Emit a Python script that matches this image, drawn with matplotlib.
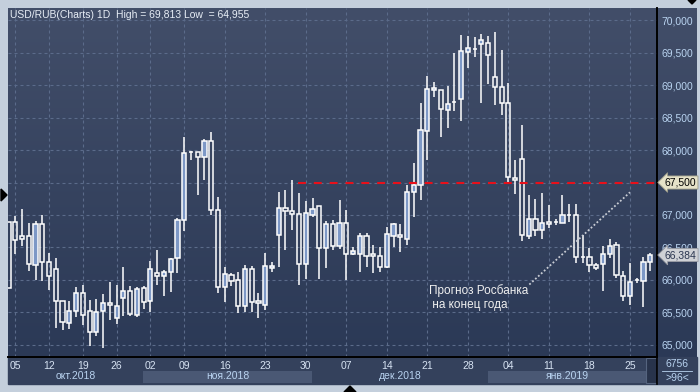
import numpy as np
import matplotlib.pyplot as plt
from matplotlib.transforms import blended_transform_factory
from matplotlib.patches import Rectangle, Polygon

plt.rcParams['font.family'] = ['Liberation Sans', 'DejaVu Sans']

# daily USD/RUB candles (oct 2018 - jan 2019)
opens = [66.89, 66.887, 66.67, 66.67, 66.225, 66.856, 66.27, 66.164, 65.67, 65.333,
         65.518, 65.795, 65.518, 65.195, 65.518, 65.64, 65.41, 65.72, 65.83, 65.456,
         65.877, 65.67, 66.10, 66.056, 66.118, 66.333, 66.918, 67.964, 67.964, 67.90,
         68.133, 67.07, 65.887, 66.07, 65.995, 65.595, 66.164, 65.67, 65.61, 66.18,
         66.687, 67.10, 67.056, 67.01, 66.24, 66.995, 67.133, 66.487, 66.856, 66.518,
         66.872, 66.395, 66.395, 66.672, 66.395, 66.364, 66.205, 66.672, 66.687, 66.626,
         67.349, 67.456, 68.287, 68.918, 68.918, 68.61, 68.733, 68.779, 69.503, 69.554,
         69.626, 69.641, 69.118, 68.964, 68.718, 67.564, 67.856, 66.672, 66.933, 66.764,
         66.887, 66.887, 66.872, 66.995, 66.995, 66.349, 66.349, 66.226, 66.241, 66.395,
         66.533, 66.056, 65.749, 65.995, 65.979, 66.272]
highs = [66.89, 66.98, 67.09, 66.88, 66.91, 67.0, 66.415, 66.34, 65.67, 65.67,
         65.89, 65.92, 65.69, 65.71, 65.78, 65.97, 65.92, 66.2, 65.91, 65.89,
         65.91, 66.29, 66.46, 66.15, 66.34, 66.96, 68.2, 67.98, 67.964, 68.164,
         68.27, 67.27, 66.195, 66.10, 66.118, 66.23, 66.215, 65.795, 66.41, 66.27,
         67.35, 67.38, 67.533, 67.333, 67.21, 67.256, 67.133, 66.90, 66.918, 67.226,
         67.072, 66.503, 66.718, 66.718, 66.533, 66.503, 66.81, 66.872, 66.86, 67.462,
         67.795, 68.718, 69.133, 69.041, 68.918, 68.979, 69.487, 69.764, 69.749, 69.733,
         69.79, 69.749, 69.813, 69.533, 69.026, 67.841, 68.379, 67.303, 67.241, 67.333,
         67.149, 66.933, 67.303, 67.164, 67.164, 66.687, 66.487, 66.256, 66.518, 66.626,
         66.58, 66.133, 66.256, 66.026, 66.349, 66.41]
lows = [65.88, 66.405, 66.53, 66.14, 66.0, 65.98, 65.85, 65.26, 65.23, 65.24,
        65.43, 65.30, 64.99, 65.14, 64.955, 65.38, 65.33, 65.44, 65.44, 65.425,
        65.56, 65.50, 65.92, 65.75, 65.82, 66.11, 66.76, 67.85, 67.30, 67.54,
        67.0, 65.795, 65.656, 65.90, 65.487, 65.50, 65.50, 65.41, 65.533, 66.13,
        66.205, 66.456, 66.764, 65.918, 66.02, 66.974, 66.02, 66.19, 66.456, 66.472,
        66.0, 66.38, 66.128, 66.205, 66.113, 66.128, 66.18, 66.503, 66.426, 66.533,
        66.974, 67.236, 67.851, 68.81, 68.195, 68.333, 68.6, 68.441, 69.256, 69.426,
        68.718, 69.01, 68.687, 68.533, 67.503, 67.318, 66.595, 66.626, 66.672, 66.626,
        66.795, 66.841, 66.87, 66.887, 66.256, 66.256, 66.118, 66.149, 65.826, 66.333,
        66.026, 65.672, 65.61, 65.95, 65.579, 66.133]
closes = [65.88, 66.61, 66.625, 66.24, 66.856, 66.27, 66.056, 65.67, 65.35, 65.518,
          65.795, 65.456, 65.195, 65.50, 65.64, 65.61, 65.595, 65.83, 65.47, 65.86,
          65.66, 66.164, 66.056, 66.118, 66.318, 66.918, 67.948, 67.964, 67.90, 68.133,
          67.07, 65.887, 66.087, 65.98, 65.595, 66.164, 65.656, 65.64, 66.21, 66.21,
          67.10, 67.056, 67.01, 66.24, 67.025, 67.087, 66.487, 66.856, 66.518, 66.872,
          66.395, 66.441, 66.672, 66.364, 66.364, 66.205, 66.703, 66.856, 66.656, 67.349,
          67.456, 68.303, 68.933, 68.949, 68.626, 68.703, 68.733, 69.518, 69.564, 69.554,
          69.687, 69.456, 68.964, 68.718, 67.579, 67.533, 66.687, 66.933, 66.764, 66.872,
          66.856, 66.887, 66.995, 66.995, 66.349, 66.349, 66.226, 66.179, 66.395, 66.518,
          66.072, 65.749, 65.964, 65.995, 66.272, 66.384]

tick_pos = [1, 6, 11, 16, 21, 26, 32, 38, 44, 50, 56, 62, 68, 74, 80, 86, 92]
tick_labels = ['05', '12', '19', '26', '02', '09', '16', '23', '30', '07',
               '14', '21', '28', '04', '11', '18', '25']
months = ['окт.2018', 'ноя.2018', 'дек.2018', 'янв.2019']
month_edges = [-0.1, 19.9, 44.9, 71.0, 94.4]

target = 67.5          # Rosbank year-end forecast
target_start = 42.8
last_price = 66.384
forecast_x = [77.1, 92.0]
forecast_y = [65.93, 67.35]

W, H = 700, 392
XMIN, XMAX = -0.08, 96.0
YMIN, YMAX = 64.815, 70.185
TXT = '#b9d3f0'


def px(x0, y0, x1, y1):
    # pixel box -> figure fraction
    return [x0 / W, 1 - y1 / H, (x1 - x0) / W, (y1 - y0) / H]


def fmt(v):
    return f'{v:.3f}'.replace('.', ',')


fig = plt.figure(figsize=(7, 3.92), dpi=100)
fig.patch.set_facecolor('#c4cfdc')

# background panels
bg = fig.add_axes([0, 0, 1, 1], zorder=0)
bg.set_xlim(0, W)
bg.set_ylim(H, 0)
bg.axis('off')
grad = np.linspace(0, 1, 256)[:, None]
top_c = np.array([0x42, 0x4e, 0x69]) / 255
bot_c = np.array([0x2b, 0x39, 0x56]) / 255
img = top_c[None, None, :] * (1 - grad[..., None]) + bot_c[None, None, :] * grad[..., None]
bg.imshow(img, extent=(8, 697, 357, 8), aspect='auto', origin='upper')
bg.add_patch(Rectangle((8, 357), 689, 27, color='#34415c'))
bg.add_patch(Rectangle((646, 358), 11, 25, facecolor='#28334b', edgecolor='#55647f', lw=0.8))
bg.plot([657, 657], [8, 384], color='black', lw=1.2)
bg.plot([662, 692], [371, 371], color=TXT, lw=0.6)
bg.text(677, 364, '6756', color=TXT, fontsize=7.5, ha='center', va='center')
bg.text(677, 378, '>96<', color=TXT, fontsize=7.5, ha='center', va='center')
bg.add_patch(Polygon([(1, 189), (7, 195), (1, 201)], color='black'))
bg.add_patch(Polygon([(344, 392), (350, 386), (356, 392)], color='black'))
bg.add_patch(Polygon([(688, 0), (692, 4), (696, 0)], color='black'))

# month strip under the time axis
axm = fig.add_axes(px(8, 357, 657, 384), zorder=1)
axm.set_xlim(XMIN, XMAX)
axm.set_ylim(0, 1)
axm.axis('off')
for k, name in enumerate(months):
    if k % 2 == 1:
        axm.axvspan(month_edges[k], month_edges[k + 1], ymin=0.04, ymax=0.48,
                    color='#4a5874', lw=0)
    axm.text((month_edges[k] + month_edges[k + 1]) / 2, 0.28, name, color=TXT,
             fontsize=7.5, ha='center', va='center')

# main chart
ax = fig.add_axes(px(8, 8, 657, 357), zorder=3)
ax.set_facecolor('none')
ax.set_xlim(XMIN, XMAX)
ax.set_ylim(YMIN, YMAX)

x = np.arange(len(opens))
o = np.array(opens)
c = np.array(closes)
hi = np.array(highs)
lo = np.array(lows)
top = np.maximum(o, c)
bot = np.minimum(o, c)
up = c > o

ax.vlines(x, top, hi, color='white', lw=1.1, zorder=3)
ax.vlines(x, lo, bot, color='white', lw=1.1, zorder=3)
ax.bar(x[up], (top - bot)[up], bottom=bot[up], width=0.62, color='#7d98c6',
       edgecolor='white', linewidth=1.1, zorder=4)
ax.bar(x[~up], (top - bot)[~up], bottom=bot[~up], width=0.62, facecolor='none',
       edgecolor='white', linewidth=1.1, zorder=4)

ax.hlines(target, target_start, XMAX, colors='#e8101a', linestyles=(0, (3.8, 3.8)),
          lw=1.5, zorder=5)
ax.plot(forecast_x, forecast_y, color='#c8ccd4', lw=1.3, linestyle=(0, (1, 1.2)), zorder=5)
ax.text(62.2, 65.93, 'Прогноз Росбанка\n на конец года', color='#f0f0f0', fontsize=8.5,
        ha='left', va='top', linespacing=1.15, zorder=6)

ax.text(0.003, 0.98, 'USD/RUB(Charts) 1D  High = 69,813 Low  = 64,955', color='#e8eef6',
        fontsize=7.5, ha='left', va='center', transform=ax.transAxes, zorder=6)

# axes, grid, ticks (the 67,500 label is taken by the forecast flag)
yt = np.arange(65.0, 70.01, 0.5)
ax.set_yticks(yt)
ax.set_yticklabels(['' if abs(v - target) < 1e-9 else fmt(v) for v in yt])
ax.set_xticks(tick_pos)
ax.set_xticklabels(tick_labels)
ax.yaxis.tick_right()
ax.tick_params(axis='y', length=0, pad=3, labelsize=7.5, labelcolor=TXT)
ax.tick_params(axis='x', length=0, pad=3, labelsize=7.5, labelcolor='#d6e2f2')
ax.grid(True, color='#5b6b8a', lw=0.8, linestyle=(0, (2.7, 2.7)), zorder=1)
ax.set_axisbelow(True)
for s in ['top', 'left']:
    ax.spines[s].set_visible(False)
ax.spines['bottom'].set_color('black')
ax.spines['bottom'].set_linewidth(1.4)
ax.spines['right'].set_color('black')
ax.spines['right'].set_linewidth(1.2)

# price flags on the right axis
tr = blended_transform_factory(ax.transAxes, ax.transData)
ax.text(1.012, target, fmt(target), transform=tr, fontsize=7.5,
        color='black', ha='left', va='center', zorder=7, clip_on=False,
        bbox=dict(boxstyle='larrow,pad=0.15', fc='#e6e2c8', ec='#9a9a88', lw=0.6))
ax.text(1.012, last_price, fmt(last_price), transform=tr, fontsize=7.5,
        color='#2a3550', ha='left', va='center', zorder=7, clip_on=False,
        bbox=dict(boxstyle='larrow,pad=0.15', fc='#cfd1d6', ec='#9a9ca4', lw=0.6))

fig.savefig('out.png', dpi=100, facecolor=fig.get_facecolor())
